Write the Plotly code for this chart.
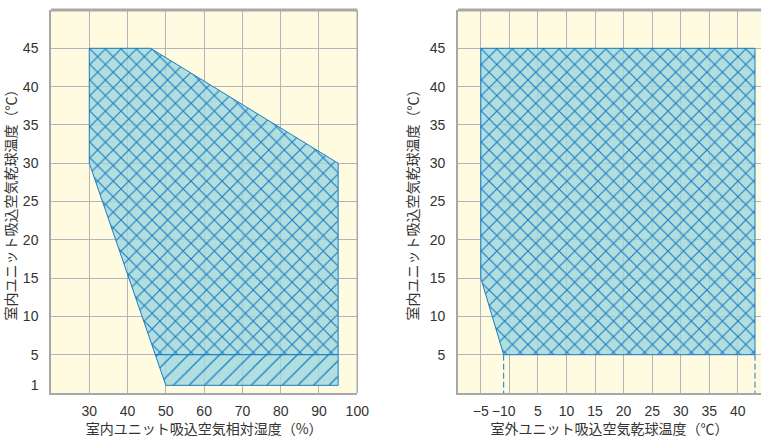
import plotly.graph_objects as go

# ---- Left chart data (indoor RH vs indoor dry-bulb) ----
left_cross_x = [30, 46, 95, 95, 47.24, 30, 30]
left_cross_y = [45, 45, 30, 5, 5, 30, 45]
left_diag_x = [47.24, 95, 95, 50, 47.24]
left_diag_y = [5, 5, 1, 1, 5]
left_xticks = [30, 40, 50, 60, 70, 80, 90, 100]
left_xticktext = ["30", "40", "50", "60", "70", "80", "90", "100"]
left_yticks = [1, 5, 10, 15, 20, 25, 30, 35, 40, 45]
left_ygrid = [5, 10, 15, 20, 25, 30, 35, 40, 45]
left_xgrid = [30, 40, 50, 60, 70, 80, 90]

# ---- Right chart data (outdoor DB vs indoor DB) ----
right_x = [-5, 43, 43, -1, -5, -5]
right_y = [45, 45, 5, 5, 15, 45]
right_dash_x = [-1, 43]
right_xticks = [-5, -1, 5, 10, 15, 20, 25, 30, 35, 40, 43]
right_xticktext = ["−5", "−10", "5", "10", "15", "20", "25", "30", "35", "40", "43"]
right_xgrid = [-5, 0, 5, 10, 15, 20, 25, 30, 35, 40]
right_yticks = [5, 10, 15, 20, 25, 30, 35, 40, 45]

BLUE = "#1a7cc6"
FILL = "rgba(160,216,222,0.82)"
BG = "#fffbe0"
GRID = "#b4b4b8"
FONT = "Noto Sans CJK JP"
TICKFONT = "Liberation Sans"
TXT = "#333333"

fig = go.Figure()

fig.add_trace(go.Scatter(
    x=left_cross_x, y=left_cross_y, mode="lines", fill="toself",
    line=dict(color=BLUE, width=1),
    fillpattern=dict(shape="x", fgcolor=BLUE, bgcolor=FILL, size=11, solidity=0.19, fgopacity=1),
    xaxis="x", yaxis="y", showlegend=False, hoverinfo="skip"))
fig.add_trace(go.Scatter(
    x=left_diag_x, y=left_diag_y, mode="lines", fill="toself",
    line=dict(color=BLUE, width=1),
    fillpattern=dict(shape="/", fgcolor=BLUE, bgcolor=FILL, size=11, solidity=0.11, fgopacity=1),
    xaxis="x", yaxis="y", showlegend=False, hoverinfo="skip"))
fig.add_trace(go.Scatter(
    x=right_x, y=right_y, mode="lines", fill="toself",
    line=dict(color=BLUE, width=1),
    fillpattern=dict(shape="x", fgcolor=BLUE, bgcolor=FILL, size=11, solidity=0.19, fgopacity=1),
    xaxis="x2", yaxis="y2", showlegend=False, hoverinfo="skip"))
for xv in right_dash_x:
    fig.add_trace(go.Scatter(
        x=[xv, xv], y=[5, 0], mode="lines",
        line=dict(color=BLUE, width=1, dash="6px,3px"),
        xaxis="x2", yaxis="y2", showlegend=False, hoverinfo="skip"))

axis_common = dict(showgrid=False, zeroline=False, ticks="", automargin=False,
                   tickfont=dict(family=TICKFONT, size=14, color=TXT),
                   showline=True, linecolor="#a8a8a8", linewidth=1.5)
title_font = dict(size=14, color=TXT, family=FONT)

fig.update_layout(
    width=761, height=438,
    margin=dict(l=0, r=0, t=10, b=45),
    paper_bgcolor="white", plot_bgcolor=BG,
    font=dict(family=FONT, color=TXT),
    xaxis=dict(domain=[0.067, 0.4695], range=[20, 100], tickvals=left_xticks,
               ticktext=left_xticktext, anchor="y", ticklabelstandoff=4,
               minor=dict(tickvals=left_xgrid, showgrid=True, gridcolor=GRID, gridwidth=1, ticks=""),
               title=dict(text="室内ユニット吸込空気相対湿度（%）", font=title_font, standoff=6),
               **axis_common),
    yaxis=dict(domain=[0, 1], range=[0, 50], tickvals=left_yticks, anchor="x",
               ticklabelstandoff=8,
               minor=dict(tickvals=left_ygrid, showgrid=True, gridcolor=GRID, gridwidth=1, ticks=""),
               title=dict(text="室内ユニット吸込空気乾球温度（℃）", font=title_font, standoff=8),
               **axis_common),
    xaxis2=dict(domain=[0.6018, 1.0], range=[-9, 44.05], tickvals=right_xticks,
                ticktext=right_xticktext, anchor="y2", ticklabelstandoff=4,
                minor=dict(tickvals=right_xgrid, showgrid=True, gridcolor=GRID, gridwidth=1, ticks=""),
                title=dict(text="室外ユニット吸込空気乾球温度（℃）", font=title_font, standoff=6),
                **axis_common),
    yaxis2=dict(domain=[0, 1], range=[0, 50], tickvals=right_yticks, anchor="x2",
                ticklabelstandoff=8,
                minor=dict(tickvals=left_ygrid, showgrid=True, gridcolor=GRID, gridwidth=1, ticks=""),
                title=dict(text="室内ユニット吸込空気乾球温度（℃）", font=title_font, standoff=8),
                **axis_common),
)

# frame: thick top border, right border on left chart
for xr, yr in [("x domain", "y domain"), ("x2 domain", "y2 domain")]:
    fig.add_shape(type="line", xref=xr, yref=yr, x0=0, x1=1, y0=1, y1=1,
                  line=dict(color="#a8a8a8", width=3), layer="above")
fig.add_shape(type="line", xref="x domain", yref="y domain", x0=1, x1=1, y0=0, y1=1,
              line=dict(color="#a8a8a8", width=1.5), layer="above")

fig.write_html("out.html", config={"displayModeBar": False},
               post_script="document.body.style.margin='0';document.body.style.overflow='hidden';")
